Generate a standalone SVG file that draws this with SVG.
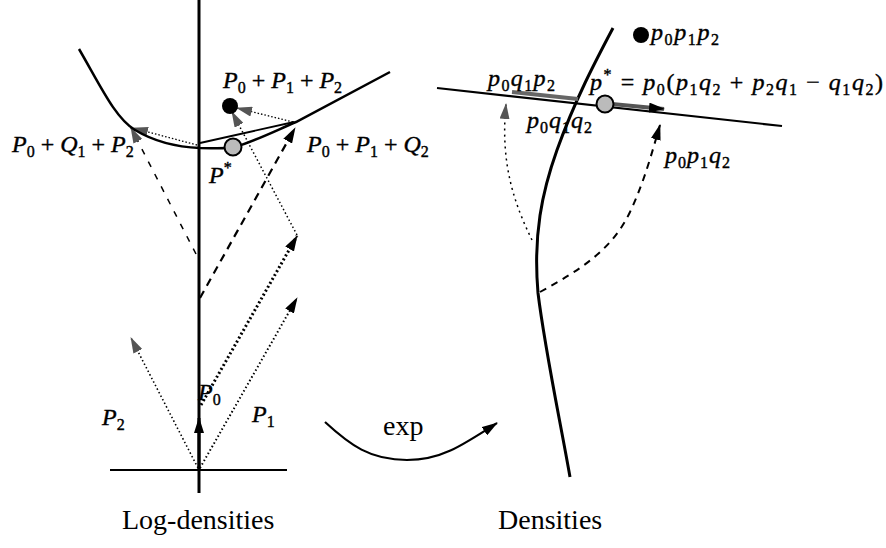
<svg xmlns="http://www.w3.org/2000/svg" width="886" height="548" viewBox="0 0 886 548">
<style>
.m{font-family:"Liberation Serif","DejaVu Serif",serif;font-style:italic;font-size:24px;fill:#000;stroke:#000;stroke-width:0.4}
.s{font-style:normal;font-size:16px}
.u{font-style:normal}
.r{font-family:"Liberation Serif","DejaVu Serif",serif;font-size:28px;fill:#000}
.ln{fill:none;stroke:#000}
</style>
<defs>
<marker id="ah" viewBox="0 0 16 10" refX="15" refY="5" markerWidth="16" markerHeight="10" markerUnits="userSpaceOnUse" orient="auto"><path d="M0,0 L16,5 L0,10 z" fill="#000"/></marker>
<marker id="ahg" viewBox="0 0 16 10" refX="15" refY="5" markerWidth="16" markerHeight="10" markerUnits="userSpaceOnUse" orient="auto"><path d="M0,0 L16,5 L0,10 z" fill="#555"/></marker>
</defs>
<g id="connectors">
<!-- left panel -->
<line class="ln" x1="199" y1="0" x2="199" y2="493" stroke-width="3"/>
<line class="ln" x1="110" y1="470" x2="287" y2="470" stroke-width="2"/>
<line class="ln" x1="199" y1="470" x2="199" y2="418" stroke-width="3" marker-end="url(#ah)"/>
<line class="ln" x1="198" y1="468" x2="131" y2="338" stroke-width="1.6" stroke-dasharray="1.5 2.5" marker-end="url(#ahg)"/>
<line class="ln" x1="200" y1="468" x2="297" y2="298" stroke-width="2" stroke-dasharray="1.5 2.5" marker-end="url(#ah)"/>
<line class="ln" x1="201" y1="405" x2="297" y2="236" stroke-width="3" stroke-dasharray="2 2.5" marker-end="url(#ah)"/>
<line class="ln" x1="200" y1="298" x2="295" y2="128" stroke-width="2.2" stroke-dasharray="8 6" marker-end="url(#ah)"/>
<line class="ln" x1="196" y1="254" x2="131" y2="128" stroke-width="1.5" stroke-dasharray="6 8" marker-end="url(#ahg)"/>
<line class="ln" x1="297" y1="235" x2="232" y2="112" stroke-width="1.5" stroke-dasharray="1.5 2.5" marker-end="url(#ahg)"/>
<line class="ln" x1="197" y1="145" x2="133" y2="128" stroke-width="1.3" stroke-dasharray="1.5 2" marker-end="url(#ahg)"/>
<line class="ln" x1="293" y1="122" x2="237" y2="108" stroke-width="1.3" stroke-dasharray="1.5 2" marker-end="url(#ahg)"/>
<path class="ln" d="M79,49 C100,85 115,118 135,130 C155,142 175,147 200,148 C215,148 225,149 235,147 C255,141 275,131 296,122 L390,72" stroke-width="2.5"/>
<line class="ln" x1="200" y1="143" x2="294" y2="122" stroke-width="1.8"/>
<!-- right panel -->
<path class="ln" d="M613,28 C595,62 575,100 557,150 C542,192 533,235 538,293 C545,350 560,420 570,477" stroke-width="3"/>
<line class="ln" x1="437" y1="88" x2="782" y2="126" stroke-width="2.2"/>
<line x1="512" y1="92" x2="578" y2="99" stroke="#666" stroke-width="4"/>
<line x1="612" y1="104" x2="664" y2="109" stroke="#555" stroke-width="4" marker-end="url(#ah)"/>
<path class="ln" d="M532,240 C515,205 500,165 506,104" stroke-width="1.5" stroke-dasharray="2 4" marker-end="url(#ahg)"/>
<path class="ln" d="M540,292 C580,270 612,250 630,212 C645,180 652,152 660,125" stroke-width="2" stroke-dasharray="7 6" marker-end="url(#ah)"/>
<!-- exp arrow -->
<path class="ln" d="M325,422 C350,445 370,460 407,460 C440,460 460,447 497,423" stroke-width="2.2" marker-end="url(#ah)"/>
</g>
<g id="node-ppp-left"><circle cx="230" cy="106" r="8" fill="#000"/></g>
<g id="node-pstar-left"><circle cx="233" cy="147" r="8.5" fill="#bbb" stroke="#000" stroke-width="2"/></g>
<g id="node-ppp-right"><circle cx="641" cy="35" r="8" fill="#000"/></g>
<g id="node-pstar-right"><circle cx="605" cy="104" r="8.5" fill="#bbb" stroke="#000" stroke-width="2"/></g>
<g id="labels">
<text class="m" x="223" y="88">P<tspan class="s" dy="5">0</tspan><tspan dy="-5" class="u"> + </tspan>P<tspan class="s" dy="5">1</tspan><tspan dy="-5" class="u"> + </tspan>P<tspan class="s" dy="5">2</tspan></text>
<text class="m" x="12" y="152">P<tspan class="s" dy="5">0</tspan><tspan dy="-5" class="u"> + </tspan>Q<tspan class="s" dy="5">1</tspan><tspan dy="-5" class="u"> + </tspan>P<tspan class="s" dy="5">2</tspan></text>
<text class="m" x="307" y="152">P<tspan class="s" dy="5">0</tspan><tspan dy="-5" class="u"> + </tspan>P<tspan class="s" dy="5">1</tspan><tspan dy="-5" class="u"> + </tspan>Q<tspan class="s" dy="5">2</tspan></text>
<text class="m" x="209" y="183">P<tspan class="s" dy="-10">*</tspan></text>
<text class="m" x="198" y="400">P<tspan class="s" dy="5">0</tspan></text>
<text class="m" x="102" y="425">P<tspan class="s" dy="5">2</tspan></text>
<text class="m" x="252" y="422">P<tspan class="s" dy="5">1</tspan></text>
<text class="r" x="122" y="529">Log-densities</text>
<text class="r" x="498" y="529">Densities</text>
<text class="r" x="383" y="435" font-size="21">exp</text>
<text class="m" x="651" y="40" textLength="68" lengthAdjust="spacing">p<tspan class="s" dy="5">0</tspan><tspan dy="-5">p</tspan><tspan class="s" dy="5">1</tspan><tspan dy="-5">p</tspan><tspan class="s" dy="5">2</tspan></text>
<text class="m" x="590" y="90" textLength="293" lengthAdjust="spacing">p<tspan class="s" dy="-10">*</tspan><tspan dy="10" class="u"> = </tspan>p<tspan class="s" dy="5">0</tspan><tspan dy="-5" class="u">(</tspan>p<tspan class="s" dy="5">1</tspan><tspan dy="-5">q</tspan><tspan class="s" dy="5">2</tspan><tspan dy="-5" class="u"> + </tspan>p<tspan class="s" dy="5">2</tspan><tspan dy="-5">q</tspan><tspan class="s" dy="5">1</tspan><tspan dy="-5" class="u"> − </tspan>q<tspan class="s" dy="5">1</tspan><tspan dy="-5">q</tspan><tspan class="s" dy="5">2</tspan><tspan dy="-5" class="u">)</tspan></text>
<text class="m" x="488" y="86" textLength="67" lengthAdjust="spacing">p<tspan class="s" dy="5">0</tspan><tspan dy="-5">q</tspan><tspan class="s" dy="5">1</tspan><tspan dy="-5">p</tspan><tspan class="s" dy="5">2</tspan></text>
<text class="m" x="527" y="128" textLength="65" lengthAdjust="spacing">p<tspan class="s" dy="5">0</tspan><tspan dy="-5">q</tspan><tspan class="s" dy="5">1</tspan><tspan dy="-5">q</tspan><tspan class="s" dy="5">2</tspan></text>
<text class="m" x="665" y="163" textLength="65" lengthAdjust="spacing">p<tspan class="s" dy="5">0</tspan><tspan dy="-5">p</tspan><tspan class="s" dy="5">1</tspan><tspan dy="-5">q</tspan><tspan class="s" dy="5">2</tspan></text>
</g>
</svg>
